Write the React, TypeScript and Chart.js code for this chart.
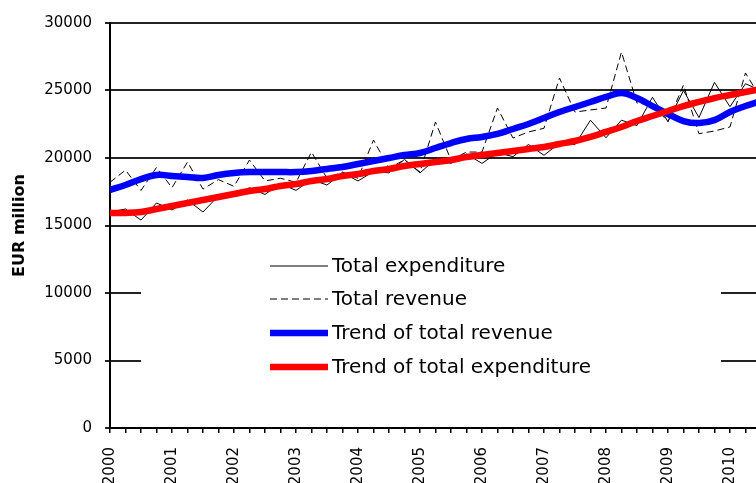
import React, { useEffect, useRef } from 'react';
import { Chart, registerables } from 'chart.js';

Chart.register(...registerables);

// Quarterly data, first point = 2000 Q1
const firstYear = 2000;
const lastTickYear = 2010.25;
const axisMaxYear = 2010.42;

const seriesLabels = [
  'Total expenditure',
  'Total revenue',
  'Trend of total revenue',
  'Trend of total expenditure',
];

const totalExpenditure = [
  16000, 16220, 15400, 16670,
  16150, 16890, 16000, 17200,
  17200, 17800, 17300, 18100,
  17600, 18400, 18000, 18900,
  18300, 19000, 18900, 19900,
  18900, 19900, 19600, 20300,
  19600, 20400, 20100, 21000,
  20200, 21100, 21000, 22800,
  21500, 22800, 22400, 24500,
  22700, 25000, 23000, 25600,
  23800, 25500, 25000,
];

const totalRevenue = [
  18200, 19100, 17600, 19300,
  17800, 19700, 17700, 18400,
  17900, 19850, 18300, 18500,
  18200, 20440, 18500, 18960,
  18500, 21330, 19260, 19850,
  18960, 22670, 19850, 20440,
  20440, 23700, 21480, 21930,
  22200, 25930, 23400, 23560,
  23700, 27850, 24070, 23930,
  22700, 25400, 21800, 22000,
  22300, 26300, 24400,
];

const trendRevenue = [
  17630, 18000, 18440, 18740,
  18670, 18590, 18520, 18740,
  18890, 18960, 18960, 18960,
  18960, 19040, 19190, 19330,
  19560, 19780, 20000, 20220,
  20370, 20740, 21110, 21410,
  21560, 21780, 22150, 22520,
  22960, 23410, 23780, 24150,
  24520, 24810, 24440, 23850,
  23260, 22740, 22590, 22810,
  23410, 23850, 24220,
];

const trendExpenditure = [
  15930, 15930, 16000, 16220,
  16440, 16670, 16890, 17110,
  17330, 17560, 17700, 17930,
  18070, 18300, 18440, 18670,
  18810, 19040, 19190, 19410,
  19560, 19700, 19850, 20070,
  20220, 20370, 20520, 20670,
  20810, 21040, 21260, 21560,
  21930, 22300, 22740, 23110,
  23480, 23850, 24150, 24440,
  24670, 24890, 25110,
];

const yMin = 0;
const yMax = 30000;
const yStep = 5000;

const FONT = "'DejaVu Sans', Arial, sans-serif";

const toPoints = (vals: number[]) =>
  vals.map((v, i) => ({ x: firstYear + i / 4, y: v }));

const insideLegend = {
  id: 'insideLegend',
  afterDatasetsDraw(chart: any) {
    const { ctx } = chart;
    ctx.save();
    ctx.fillStyle = '#ffffff';
    ctx.fillRect(141, 242, 580, 152);
    const x0 = 270;
    const x1 = 328;
    const rowY = [266, 299, 333, 367];
    chart.data.datasets.forEach((ds: any, i: number) => {
      const y = rowY[i];
      ctx.beginPath();
      ctx.strokeStyle = ds.borderColor;
      ctx.lineWidth = ds.borderWidth;
      ctx.setLineDash(ds.borderDash || []);
      ctx.moveTo(x0, y);
      ctx.lineTo(x1, y);
      ctx.stroke();
      ctx.setLineDash([]);
      ctx.fillStyle = '#000';
      ctx.font = `20px ${FONT}`;
      ctx.textAlign = 'left';
      ctx.textBaseline = 'middle';
      ctx.fillText(ds.label, 332, y + 1);
    });
    ctx.restore();
  },
};

export default function App() {
  const ref = useRef<HTMLCanvasElement | null>(null);

  useEffect(() => {
    if (!ref.current) return;
    const tickValues: number[] = [];
    for (let t = firstYear; t <= lastTickYear + 1e-9; t += 0.25) tickValues.push(t);

    const chart = new Chart(ref.current, {
      type: 'line',
      data: {
        datasets: [
          {
            label: seriesLabels[0],
            data: toPoints(totalExpenditure),
            borderColor: '#000000',
            borderWidth: 1,
            tension: 0,
            order: 4,
          },
          {
            label: seriesLabels[1],
            data: toPoints(totalRevenue),
            borderColor: '#000000',
            borderWidth: 1,
            borderDash: [7, 4],
            tension: 0,
            order: 3,
          },
          {
            label: seriesLabels[2],
            data: toPoints(trendRevenue),
            borderColor: '#0000ff',
            borderWidth: 6.5,
            tension: 0.4,
            order: 2,
          },
          {
            label: seriesLabels[3],
            data: toPoints(trendExpenditure),
            borderColor: '#ff0000',
            borderWidth: 6.5,
            tension: 0.4,
            order: 1,
          },
        ],
      },
      options: {
        animation: false,
        responsive: false,
        maintainAspectRatio: false,
        devicePixelRatio: 1,
        layout: { padding: { top: 23, right: 0, bottom: 0, left: 0 } },
        elements: { point: { radius: 0 } },
        plugins: {
          legend: { display: false },
          tooltip: { enabled: false },
        },
        scales: {
          x: {
            type: 'linear',
            min: firstYear,
            max: axisMaxYear,
            afterBuildTicks: (s: any) => {
              s.ticks = tickValues.map((v) => ({ value: v }));
            },
            afterFit: (s: any) => {
              s.height = 55;
              s.paddingRight = 0;
              s.paddingLeft = 0;
            },
            ticks: {
              autoSkip: false,
              minRotation: 90,
              maxRotation: 90,
              padding: 14,
              color: '#000',
              font: { family: FONT, size: 15 },
              callback: (v: any) => (Math.abs(v - Math.round(v)) < 1e-6 ? String(Math.round(v)) : ''),
            },
            grid: { drawOnChartArea: false, tickLength: 5, color: '#000', lineWidth: 1.5 },
            border: { color: '#000', width: 2 },
          },
          y: {
            min: yMin,
            max: yMax,
            afterFit: (s: any) => {
              s.width = 110;
            },
            ticks: {
              stepSize: yStep,
              padding: 13,
              color: '#000',
              font: { family: FONT, size: 15 },
              callback: (v: any) => String(v),
            },
            grid: { color: '#222', lineWidth: 2, tickLength: 5 },
            border: { color: '#000', width: 2 },
            title: {
              display: true,
              text: 'EUR million',
              color: '#000',
              font: { family: FONT, size: 16, weight: 'bold' },
              padding: { top: 10, bottom: 0 },
            },
          },
        },
      },
      plugins: [insideLegend],
    });
    return () => chart.destroy();
  }, []);

  return (
    <div style={{ position: 'fixed', left: 0, top: 0, width: 756, height: 483, overflow: 'hidden', background: '#fff' }}>
      <canvas ref={ref} width={756} height={483} style={{ display: 'block' }} />
    </div>
  );
}
